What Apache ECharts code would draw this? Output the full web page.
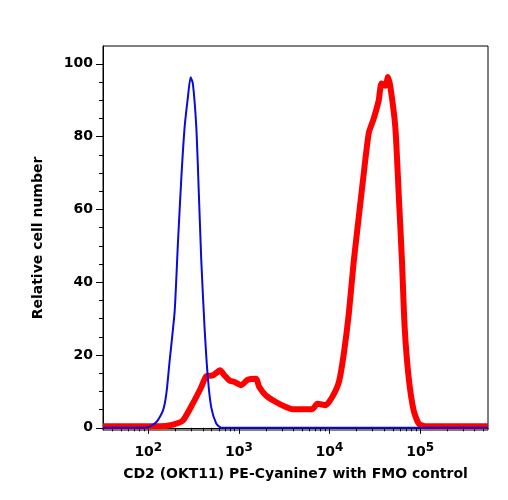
<!DOCTYPE html>
<html>
<head>
<meta charset="utf-8">
<script src="https://cdn.jsdelivr.net/npm/echarts@6/dist/echarts.min.js"></script>
<style>
  html, body { margin: 0; padding: 0; background: #fff; }
  #chart { width: 508px; height: 500px; }
</style>
</head>
<body>
<div id="chart"></div>
<script>
// x values are log10 of fluorescence intensity (decades)
var blueX = [1.50, 1.98, 2.09, 2.163, 2.20, 2.236, 2.291, 2.327, 2.365, 2.401, 2.437, 2.467, 2.492, 2.530, 2.558, 2.585, 2.621, 2.657, 2.695, 2.750, 2.804, 5.75];
var blueY = [0, 0, 1.6, 4.8, 9.5, 18.5, 32, 50.7, 68.8, 82.6, 90.8, 96.3, 94.6, 82.6, 64.4, 45.9, 27.6, 13.9, 5.6, 1.2, 0, 0];

var redX = [1.50, 2.126, 2.273, 2.382, 2.492, 2.585, 2.640, 2.712, 2.793, 2.841, 2.896, 2.951, 3.024, 3.097, 3.189, 3.225, 3.299, 3.409, 3.519, 3.591, 3.811, 3.866, 3.958, 4.031, 4.104, 4.159, 4.214, 4.269, 4.324, 4.379, 4.434, 4.489, 4.544, 4.574, 4.618, 4.646, 4.673, 4.727, 4.764, 4.800, 4.830, 4.874, 4.929, 4.984, 5.057, 5.75];
var redY = [0.4, 0.4, 0.9, 2.0, 6.7, 11.2, 14.2, 14.4, 15.8, 14.4, 13.0, 12.6, 11.7, 13.2, 13.5, 11.2, 8.9, 7.1, 5.7, 5.1, 5.1, 6.6, 6.2, 8.5, 12.6, 20.5, 31.5, 46, 58, 70, 81, 85, 90, 94.6, 94, 96.4, 93.6, 82.6, 64.4, 46, 27.6, 13.9, 4.8, 1.2, 0.4, 0.4];

var xMajor = [2, 3, 4, 5];
var yMajor = [0, 20, 40, 60, 80, 100];
var yMinor = [5, 10, 15, 25, 30, 35, 45, 50, 55, 65, 70, 75, 85, 90, 95];

// minor log ticks 2..9 x 10^n
var xMinor = [];
for (var n = 1; n <= 5; n++) {
    for (var k = 2; k <= 9; k++) {
        var v = n + Math.log10(k);
        if (v > 1.5 && v < 5.75) xMinor.push(v);
    }
}

function pairs(xs, ys) {
    var out = [];
    for (var i = 0; i < xs.length; i++) out.push([xs[i], ys[i]]);
    return out;
}

var fontFam = '"DejaVu Sans", sans-serif';
var chart = echarts.init(document.getElementById('chart'));

chart.setOption({
    animation: false,
    grid: { left: 103, right: 20, top: 46, bottom: 70, show: true, borderColor: '#000', borderWidth: 1 },
    xAxis: [{
        type: 'value', min: 1.5, max: 5.75,
        name: 'CD2 (OKT11) PE-Cyanine7 with FMO control',
        nameLocation: 'middle', nameGap: 37,
        nameTextStyle: { fontFamily: fontFam, fontWeight: 'bold', fontSize: 14, color: '#000' },
        axisLine: { lineStyle: { color: '#000', width: 1 } },
        splitLine: { show: false },
        axisTick: { show: true, length: 6, customValues: xMajor, lineStyle: { color: '#000' } },
        axisLabel: {
            customValues: xMajor, margin: 12,
            formatter: function (v) { return '10{sup|' + Math.round(v) + '}'; },
            fontFamily: fontFam, fontWeight: 'bold', fontSize: 14, color: '#000',
            rich: { sup: { fontFamily: fontFam, fontWeight: 'bold', fontSize: 12, verticalAlign: 'top', padding: [0, 0, 9, 0], color: '#000' } }
        }
    }, {
        type: 'value', min: 1.5, max: 5.75, position: 'bottom',
        axisLine: { show: false }, splitLine: { show: false }, axisLabel: { show: false },
        axisTick: { show: true, length: 3.5, customValues: xMinor, lineStyle: { color: '#000' } }
    }],
    yAxis: [{
        type: 'value', min: -0.6, max: 104.9,
        name: 'Relative cell number',
        nameLocation: 'middle', nameGap: 58,
        nameTextStyle: { fontFamily: fontFam, fontWeight: 'bold', fontSize: 14, color: '#000' },
        axisLine: { show: true, lineStyle: { color: '#000', width: 1 } },
        splitLine: { show: false },
        axisTick: { show: true, length: 7, customValues: yMajor, lineStyle: { color: '#000' } },
        axisLabel: { customValues: yMajor, margin: 10, fontFamily: fontFam, fontWeight: 'bold', fontSize: 14, color: '#000' }
    }, {
        type: 'value', min: -0.6, max: 104.9, position: 'left',
        axisLine: { show: false }, splitLine: { show: false }, axisLabel: { show: false },
        axisTick: { show: true, length: 4, customValues: yMinor, lineStyle: { color: '#000' } }
    }],
    series: [{
        type: 'line', data: pairs(redX, redY), showSymbol: false, smooth: 0.2,
        lineStyle: { color: '#ff0000', width: 6 }, z: 2
    }, {
        type: 'line', data: pairs(blueX, blueY), showSymbol: false, smooth: 0.2,
        lineStyle: { color: '#0a0adc', width: 2 }, z: 3
    }]
});
</script>
</body>
</html>
